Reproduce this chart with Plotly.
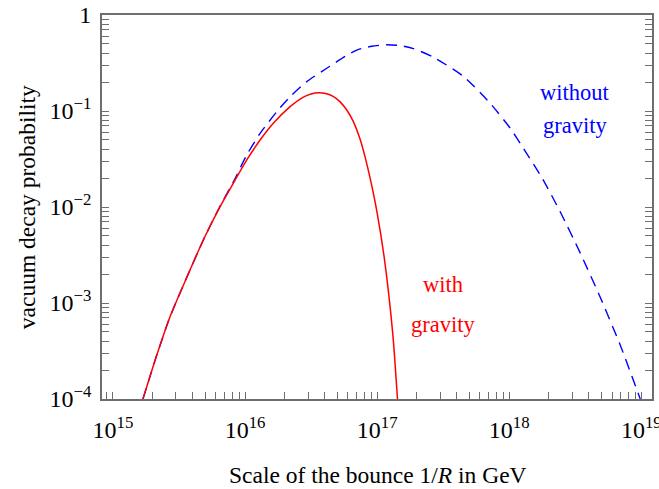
import plotly.graph_objects as go

# ---- data (log10 of scale in GeV, log10 of probability)
with_grav_log_scale = [15.227, 15.33, 15.432, 15.56, 15.684, 15.811, 15.911, 16.013,
                       16.114, 16.214, 16.341, 16.442, 16.50, 16.553, 16.61, 16.67,
                       16.72, 16.77, 16.82, 16.87, 16.909, 16.947, 17.0, 17.053,
                       17.119, 17.154]
with_grav_log_prob = [-4.0, -3.55, -3.143, -2.73, -2.344, -1.997, -1.753, -1.51,
                      -1.302, -1.128, -0.955, -0.855, -0.823, -0.81, -0.818, -0.85,
                      -0.905, -0.99, -1.11, -1.29, -1.48, -1.70, -2.06, -2.52,
                      -3.33, -4.0]

without_grav_log_scale = [15.227, 15.33, 15.432, 15.56, 15.684, 15.811, 15.911, 16.013,
                          16.114, 16.24, 16.341, 16.467, 16.619, 16.758, 16.846, 16.96,
                          17.073, 17.18, 17.275, 17.427, 17.654, 17.856, 18.008, 18.108,
                          18.25, 18.386, 18.538, 18.689, 18.841, 18.992]
without_grav_log_prob = [-4.0, -3.55, -3.143, -2.73, -2.344, -1.99, -1.74, -1.458,
                         -1.233, -1.007, -0.851, -0.694, -0.555, -0.43, -0.365, -0.325,
                         -0.31, -0.32, -0.35, -0.44, -0.64, -0.92, -1.18, -1.39,
                         -1.70, -2.05, -2.48, -2.94, -3.44, -4.0]

x_decades = [14, 15, 16, 17, 18, 19]
x_labels = {15: "10<sup>15</sup>", 16: "10<sup>16</sup>", 17: "10<sup>17</sup>",
            18: "10<sup>18</sup>", 19: "10<sup>19</sup>"}
y_decades = [-4, -3, -2, -1, 0]
y_labels = {-4: "10<sup>−4</sup>", -3: "10<sup>−3</sup>", -2: "10<sup>−2</sup>",
            -1: "10<sup>−1</sup>", 0: "1"}

FONT = "Liberation Serif"
AXC = "#6e6e6e"
TICKSIZE = 24

x_tickvals, x_ticktext = [], []
for d in x_decades:
    for k in range(1, 10):
        v = k * 10.0 ** d
        if 10 ** 14.9 <= v <= 10 ** 19.08:
            x_tickvals.append(v)
            x_ticktext.append(x_labels.get(d, "") if k == 1 else "")

y_tickvals, y_ticktext = [], []
for d in y_decades:
    for k in range(1, 10):
        v = k * 10.0 ** d
        if v <= 1.0 + 1e-9:
            y_tickvals.append(v)
            y_ticktext.append(y_labels[d] if k == 1 else "")

fig = go.Figure()
fig.add_trace(go.Scatter(
    x=[10 ** v for v in without_grav_log_scale],
    y=[10 ** v for v in without_grav_log_prob],
    mode="lines", line=dict(color="#0000ff", width=1.4, dash="11px,7px", shape="spline", smoothing=0.6),
    name="without gravity", showlegend=False, hoverinfo="skip"))
fig.add_trace(go.Scatter(
    x=[10 ** v for v in with_grav_log_scale],
    y=[10 ** v for v in with_grav_log_prob],
    mode="lines", line=dict(color="#ff0000", width=1.5, shape="spline", smoothing=0.6),
    name="with gravity", showlegend=False, hoverinfo="skip"))

fig.update_layout(
    template="none",
    width=659, height=489,
    margin=dict(l=102, r=7, t=15, b=90),
    paper_bgcolor="white", plot_bgcolor="white",
    font=dict(family=FONT, size=22, color="black"),
    xaxis=dict(type="log", range=[14.917, 19.081], tickvals=x_tickvals, ticktext=x_ticktext,
               ticks="inside", ticklen=7, tickwidth=1.2, tickcolor=AXC,
               showline=True, linecolor=AXC, linewidth=1.8, mirror=True,
               showgrid=False, zeroline=False, automargin=False,
               ticklabelstandoff=8, ticklabeloverflow="allow",
               tickfont=dict(family=FONT, size=TICKSIZE, color="black")),
    yaxis=dict(type="log", range=[-4, 0], tickvals=y_tickvals, ticktext=y_ticktext,
               ticks="inside", ticklen=7, tickwidth=1.2, tickcolor=AXC,
               showline=True, linecolor=AXC, linewidth=1.8, mirror="ticks",
               showgrid=False, zeroline=False, automargin=False,
               ticklabelstandoff=4, ticklabeloverflow="allow",
               tickfont=dict(family=FONT, size=TICKSIZE, color="black")),
    annotations=[
        dict(text="Scale of the bounce 1/<i>R</i> in GeV", xref="paper", yref="paper",
             x=0.501, y=-0.198, xanchor="center", yanchor="middle", showarrow=False,
             font=dict(family=FONT, size=23.5, color="black")),
        dict(text="vacuum decay probability", xref="paper", yref="paper",
             x=-0.136, y=0.5, xanchor="center", yanchor="middle", showarrow=False,
             textangle=-90, font=dict(family=FONT, size=23.5, color="black")),
        dict(text="without", xref="paper", yref="paper", x=0.86, y=0.797,
             xanchor="center", yanchor="middle", showarrow=False,
             font=dict(family=FONT, size=22.5, color="#0000ff")),
        dict(text="gravity", xref="paper", yref="paper", x=0.86, y=0.711,
             xanchor="center", yanchor="middle", showarrow=False,
             font=dict(family=FONT, size=22.5, color="#0000ff")),
        dict(text="with", xref="paper", yref="paper", x=0.62, y=0.297,
             xanchor="center", yanchor="middle", showarrow=False,
             font=dict(family=FONT, size=22.5, color="#ff0000")),
        dict(text="gravity", xref="paper", yref="paper", x=0.62, y=0.193,
             xanchor="center", yanchor="middle", showarrow=False,
             font=dict(family=FONT, size=22.5, color="#ff0000")),
    ],
)

fig.write_html("out.html")
